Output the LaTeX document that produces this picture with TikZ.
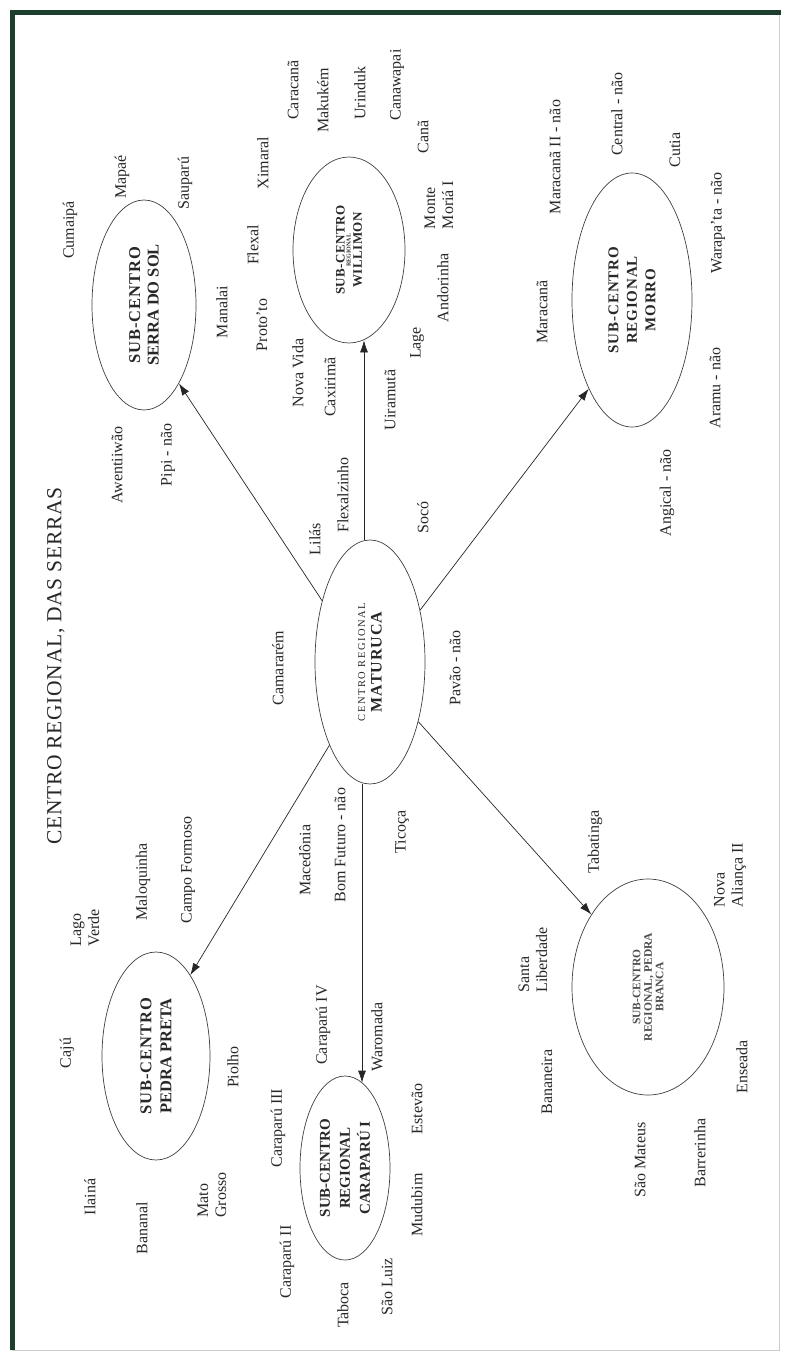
\documentclass[tikz,border=0pt]{standalone}
\usepackage{fontspec}
\setmainfont{Liberation Serif}
\usetikzlibrary{shapes.geometric,arrows.meta}
\definecolor{framegreen}{RGB}{28,62,44}
\definecolor{txt}{RGB}{40,40,40}
\newcommand\lblf{\fontsize{16}{18}\selectfont}
\tikzset{
  lbl/.style={rotate=90, font=\lblf, inner sep=0pt, align=left, text=txt},
  hub/.style={ellipse, draw=black!75, line width=0.7pt, rotate=90, inner sep=0pt, align=center, text=txt},
  arr/.style={-{Latex[length=12pt,width=8pt]}, line width=0.7pt, draw=black!85},
}
\begin{document}
\begin{tikzpicture}[x=1pt,y=-1pt]
\useasboundingbox (0,0) rectangle (790,1362);
\fill[white] (0,0) rectangle (790,1362);
% frame
\draw[gray!40, line width=1pt] (779,14) -- (779,1350) -- (12,1350);
\draw[framegreen, line width=5pt] (12,1350) -- (12,13) -- (781,13);

% title
\node[rotate=90, inner sep=0pt, text=txt, font=\fontsize{21.5}{24}\selectfont\addfontfeatures{LetterSpace=3}] (title) at (56,666) {CENTRO REGIONAL, DAS SERRAS};

% hubs
\node[hub, minimum width=244pt, minimum height=110pt, font=\fontsize{16}{16.5}\selectfont] (mat) at (370,662)
  {{\fontsize{10.5}{12}\selectfont\addfontfeatures{LetterSpace=15}CENTRO REGIONAL}\\
   {\fontsize{16}{17}\selectfont\bfseries\addfontfeatures{LetterSpace=6}MATURUCA}};
\node[hub, minimum width=210pt, minimum height=104pt, font=\fontsize{16.5}{18.5}\selectfont] (serra) at (144,305)
  {{\bfseries\addfontfeatures{LetterSpace=6}SUB-CENTRO}\\{\bfseries SERRA DO SOL}};
\node[hub, minimum width=186pt, minimum height=112pt, font=\fontsize{13}{6}\selectfont] (wil) at (349,250)
  {{\bfseries\addfontfeatures{LetterSpace=4}SUB-CENTRO}\\{\fontsize{6}{6}\selectfont\bfseries REGIONAL}\\[1.5pt]{\bfseries\addfontfeatures{LetterSpace=4}WILLIMON}};
\node[hub, minimum width=254pt, minimum height=120pt, font=\fontsize{15}{18.5}\selectfont] (morro) at (632,300)
  {{\bfseries\addfontfeatures{LetterSpace=6}SUB-CENTRO}\\{\bfseries\addfontfeatures{LetterSpace=6}REGIONAL}\\{\bfseries\addfontfeatures{LetterSpace=6}MORRO}};
\node[hub, minimum width=208pt, minimum height=108pt, font=\fontsize{16.5}{20}\selectfont] (pp) at (156,1056)
  {{\bfseries\addfontfeatures{LetterSpace=6}SUB-CENTRO}\\{\bfseries PEDRA PRETA}};
\node[hub, minimum width=184pt, minimum height=90pt, font=\fontsize{15}{20}\selectfont] (car) at (345,1168)
  {{\bfseries SUB-CENTRO}\\{\bfseries REGIONAL}\\{\bfseries CARAPARÚ I}};
\node[hub, minimum width=216pt, minimum height=152pt, font=\fontsize{11.5}{11.5}\selectfont, text=black!70] (pb) at (648,987)
  {{\bfseries SUB-CENTRO}\\{\bfseries REGIONAL, PEDRA}\\{\bfseries BRANCA}};

% arrows
\draw[arr] ([xshift=-6pt]mat.east) -- ([xshift=15pt,yshift=3pt]wil.west);
\draw[arr] ([xshift=-8pt]mat.west) -- ([xshift=17pt,yshift=-7pt]car.east);
\draw[arr] (mat.38) -- (serra.204);
\draw[arr] (mat.316) -- (morro.154);
\draw[arr] (mat.219) -- (pb.38);
\draw[arr] (mat.154) -- (pp.337);

% labels
\node[lbl] (l1) at (70,230) {Cumaipá};
\node[lbl] (l2) at (122,177) {Mapaé};
\node[lbl] (l3) at (185,183) {Sauparú};
\node[lbl] (l4) at (222,312) {Manalai};
\node[lbl] (l5) at (253,245) {Flexal};
\node[lbl] (l6) at (262,325) {Proto'to};
\node[lbl] (l7) at (263,163) {Ximaral};
\node[lbl] (l8) at (293,90) {Caracanã};
\node[lbl] (l9) at (323,100) {Makukém};
\node[lbl] (l10) at (360,93) {Urinduk};
\node[lbl] (l11) at (397,85) {Canawapai};
\node[lbl] (l12) at (298,373) {Nova Vida};
\node[lbl] (l13) at (330,387) {Caxirimã};
\node[lbl] (l14) at (390,400) {Uiramutã};
\node[lbl] (l15) at (423,137) {Canã};
\node[lbl] (l16) at (439,205) {Monte\\Moriá I};
\node[lbl] (l17) at (443,288) {Andorinha};
\node[lbl] (l18) at (417,343) {Lage};
\node[lbl] (l19) at (555,157) {Maracanã II - não};
\node[lbl] (l20) at (617,114) {Central - não};
\node[lbl] (l21) at (675,150) {Cutia};
\node[lbl] (l22) at (718,223) {Warapa'ta - não};
\node[lbl] (l23) at (542,312) {Maracanã};
\node[lbl] (l24) at (715,388) {Aramu - não};
\node[lbl] (l25) at (667,493) {Angical - não};
\node[lbl] (l26) at (117,465) {Awentiiwão};
\node[lbl] (l27) at (168,455) {Pipi - não};
\node[lbl] (l28) at (315,539) {Lilás};
\node[lbl] (l29) at (343,495) {Flexalzinho};
\node[lbl] (l30) at (278,668) {Camararém};
\node[lbl] (l31) at (423,517) {Socó};
\node[lbl] (l32) at (455,668) {Pavão - não};
\node[lbl] (l33) at (402,832) {Ticoça};
\node[lbl] (l34) at (143,882) {Maloquinha};
\node[lbl] (l35) at (188,870) {Campo Formoso};
\node[lbl] (l36) at (305,860) {Macedônia};
\node[lbl] (l37) at (340,845) {Bom Futuro - não};
\node[lbl] (l38) at (595,842) {Tabatinga};
\node[lbl] (l39) at (730,875) {Nova\\Aliança II};
\node[lbl] (l40) at (85,928) {Lago\\Verde};
\node[lbl] (l41) at (67,1053) {Cajú};
\node[lbl] (l42) at (233,1067) {Piolho};
\node[lbl] (l43) at (90,1197) {Ilainá};
\node[lbl] (l44) at (142,1228) {Bananal};
\node[lbl] (l45) at (212,1195) {Mato\\Grosso};
\node[lbl] (l46) at (278,1128) {Caraparú III};
\node[lbl] (l47) at (323,1025) {Caraparú IV};
\node[lbl] (l48) at (377,1037) {Waromada};
\node[lbl] (l49) at (287,1262) {Caraparú II};
\node[lbl] (l50) at (343,1305) {Taboca};
\node[lbl] (l51) at (387,1287) {São Luiz};
\node[lbl] (l52) at (417,1205) {Mudubim};
\node[lbl] (l53) at (417,1109) {Estevão};
\node[lbl] (l54) at (533,960) {Santa\\Liberdade};
\node[lbl] (l55) at (547,1082) {Bananeira};
\node[lbl] (l56) at (742,1067) {Enseada};
\node[lbl] (l57) at (640,1160) {São Mateus};
\node[lbl] (l58) at (700,1153) {Barrerinha};
\end{tikzpicture}
\end{document}
